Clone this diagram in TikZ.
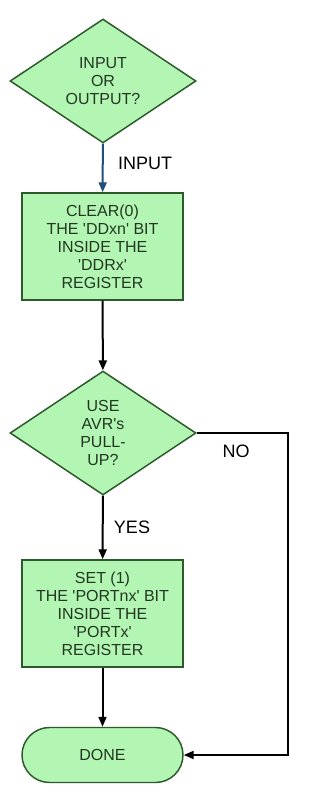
\documentclass[tikz,border=0pt]{standalone}
\usepackage{fontspec}
\setmainfont{Liberation Sans}
\usetikzlibrary{arrows.meta,positioning,shapes.geometric}
\definecolor{fillg}{HTML}{B3F5B3}
\definecolor{edgeg}{HTML}{2D5A2D}
\definecolor{txtg}{HTML}{223822}
\definecolor{inblue}{HTML}{1F4E79}
\newcommand{\sq}{\textquotesingle}
\tikzset{
  blk/.style={draw=edgeg,line width=1.1pt,fill=fillg,text=txtg,align=center,inner sep=2pt,
    font=\fontsize{12}{13.5}\selectfont},
  dec/.style={blk,diamond,aspect=1.5,minimum width=139.5pt,minimum height=93pt},
  proc/.style={blk,rectangle,minimum width=120.75pt,minimum height=80.25pt},
  term/.style={blk,rectangle,rounded corners=20.6pt,minimum width=120.75pt,minimum height=41.25pt},
  ar/.style={-{Triangle[length=7.5pt,width=6pt]},line width=1.5pt,draw=black},
  lbl/.style={font=\fontsize{13.5}{15}\selectfont,text=black},
}
\begin{document}
\begin{tikzpicture}[x=0.75pt,y=-0.75pt]
\useasboundingbox (0,0) rectangle (318,798);
\node[dec] (q1) at (103,81) {INPUT\\OR\\OUTPUT?};
\node[proc] (clr) at (102.5,246.5) {CLEAR(0)\\THE \sq DDxn\sq{} BIT\\INSIDE THE\\\sq DDRx\sq\\REGISTER};
\node[dec] (q2) at (103,433) {USE\\AVR\sq s\\PULL-\\UP?};
\node[proc] (set) at (102.5,613.5) {SET (1)\\THE \sq PORTnx\sq{} BIT\\INSIDE THE\\\sq PORTx\sq\\REGISTER};
\node[term] (done) at (102.5,755) {DONE};
\coordinate (c1) at (288,433);
\coordinate (c2) at (288,755);
\draw[ar,draw=inblue] (q1) -- (clr);
\draw[ar] (clr) -- (q2);
\draw[ar] (q2) -- (set);
\draw[ar] (set) -- (done);
\draw[ar] (q2.east) -- (c1) -- (c2) -- (done.east);
\node[lbl] at (145,163) {INPUT};
\node[lbl] at (236,451) {NO};
\node[lbl] at (132,527) {YES};
\end{tikzpicture}
\end{document}
